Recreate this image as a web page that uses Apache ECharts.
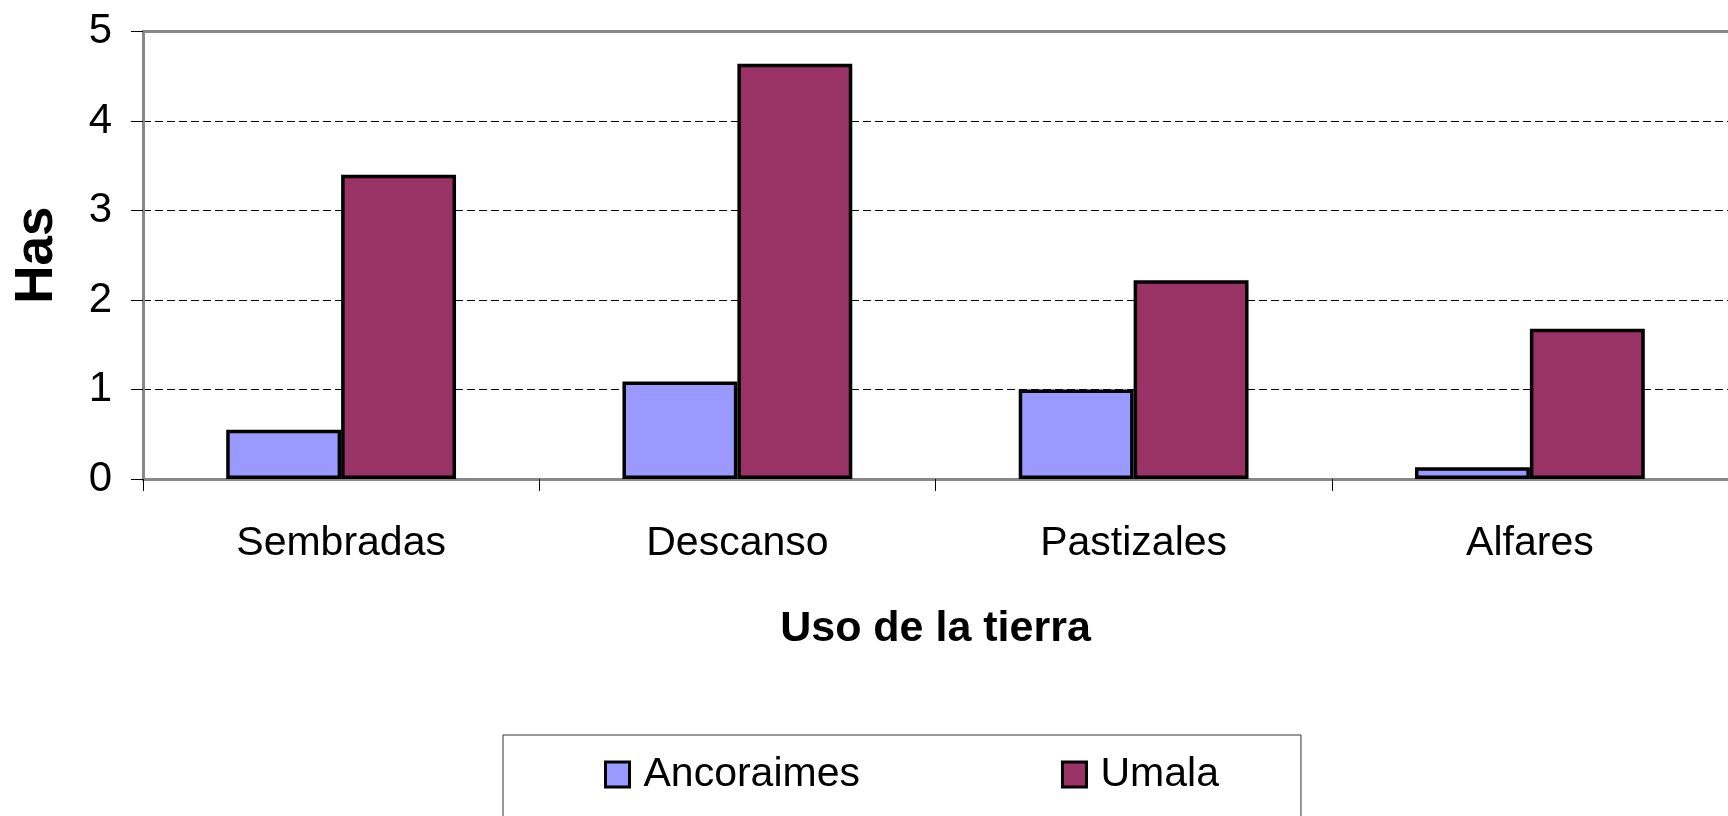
<!DOCTYPE html>
<html>
<head>
<meta charset="utf-8">
<script src="https://cdn.jsdelivr.net/npm/echarts@6/dist/echarts.min.js"></script>
<style>
html,body{margin:0;padding:0;background:#fff;}
#chart{width:1728px;height:816px;}
</style>
</head>
<body>
<div id="chart"></div>
<script>
const categories = ['Sembradas', 'Descanso', 'Pastizales', 'Alfares'];
const ancoraimes = [0.55, 1.09, 1.0, 0.13];
const umala = [3.40, 4.64, 2.22, 1.68];
const seriesNames = ['Ancoraimes', 'Umala'];
const yTicks = [0, 1, 2, 3, 4, 5];

const FONT = "'Liberation Sans', Arial, sans-serif";
const chart = echarts.init(document.getElementById('chart'), null, {renderer: 'canvas'});
chart.setOption({
  backgroundColor: '#ffffff',
  animation: false,
  grid: {left: 143, right: 0, top: 31.5, bottom: 337, containLabel: false},
  legend: {
    data: seriesNames,
    left: 503,
    top: 735,
    orient: 'horizontal',
    padding: [19, 82, 60, 101],
    itemGap: 201,
    itemWidth: 24,
    itemHeight: 25,
    icon: 'rect',
    borderColor: '#333',
    borderWidth: 1,
    textStyle: {fontFamily: FONT, fontSize: 41, color: '#000', padding: [0, 0, 0, 9]},
    itemStyle: {borderColor: '#000', borderWidth: 3}
  },
  xAxis: [{
    type: 'category',
    data: categories,
    name: 'Uso de la tierra',
    nameLocation: 'middle',
    nameGap: 129,
    nameTextStyle: {fontFamily: FONT, fontSize: 43, fontWeight: 'bold', color: '#000'},
    axisLine: {show: true, lineStyle: {color: '#888', width: 3}},
    axisTick: {show: true, length: 12, lineStyle: {color: '#000', width: 1}},
    axisLabel: {fontFamily: FONT, fontSize: 41, color: '#000', margin: 44},
    splitLine: {show: false}
  }, {
    type: 'category',
    data: categories,
    position: 'top',
    axisLine: {show: true, lineStyle: {color: '#888', width: 3}},
    axisTick: {show: false},
    axisLabel: {show: false},
    splitLine: {show: false}
  }],
  yAxis: {
    type: 'value',
    min: 0,
    max: 5,
    interval: 1,
    name: 'Has',
    nameLocation: 'middle',
    nameGap: 79,
    nameRotate: 90,
    nameTextStyle: {fontFamily: FONT, fontSize: 53, fontWeight: 'bold', color: '#000'},
    axisLine: {show: true, lineStyle: {color: '#888', width: 3}},
    axisTick: {show: true, length: 12, inside: false, lineStyle: {color: '#000', width: 1}},
    axisLabel: {fontFamily: FONT, fontSize: 42, color: '#000', margin: 31,
      formatter: function (v) { return yTicks.indexOf(v) >= 0 ? String(v) : ''; }},
    splitLine: {show: true, lineStyle: {color: '#000', width: 1, type: [8, 4]}}
  },
  series: [{
    name: seriesNames[0],
    type: 'bar',
    data: ancoraimes,
    barGap: '0%',
    barCategoryGap: '42%',
    itemStyle: {color: '#9999FF', borderColor: '#000', borderWidth: 3.5}
  }, {
    name: seriesNames[1],
    type: 'bar',
    data: umala,
    barGap: '0%',
    barCategoryGap: '42%',
    itemStyle: {color: '#993366', borderColor: '#000', borderWidth: 3.5}
  }]
});
</script>
</body>
</html>
